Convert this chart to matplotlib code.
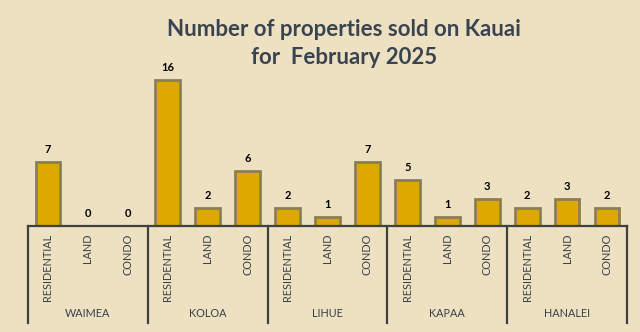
import matplotlib.pyplot as plt
from matplotlib.lines import Line2D

plt.rcParams['font.family'] = ['Lato', 'DejaVu Sans']

towns = ['WAIMEA', 'KOLOA', 'LIHUE', 'KAPAA', 'HANALEI']
types = ['RESIDENTIAL', 'LAND', 'CONDO']
sold = [7, 0, 0,
        16, 2, 6,
        2, 1, 7,
        5, 1, 3,
        2, 3, 2]

bg = '#EEE1C2'
fig = plt.figure(figsize=(6.4, 3.32), dpi=100, facecolor=bg)
ax = fig.add_axes([28/640, 106/332, 599/640, 166/332])
ax.set_facecolor(bg)

x = list(range(len(sold)))
bars = ax.bar(x, sold, width=0.62, color='#DDA800', edgecolor='#8C7E55', linewidth=2)

for xi, v in zip(x, sold):
    ax.annotate(str(v), (xi, v), xytext=(0, 5), textcoords='offset points',
                ha='center', va='bottom', fontsize=8, fontweight='bold', color='black')

ax.set_xlim(-0.5, len(sold) - 0.5)
ax.set_ylim(0, 18.2)
for s in ['top', 'right', 'left']:
    ax.spines[s].set_visible(False)
ax.spines['bottom'].set_color('#404040')
ax.spines['bottom'].set_linewidth(1.6)
ax.set_xticks([])
ax.set_yticks([])

tr = ax.get_xaxis_transform()
line_col = '#404040'
for i in range(len(towns) + 1):
    xs = i * 3 - 0.5
    ax.add_line(Line2D([xs, xs], [0, -0.585], transform=tr, color=line_col,
                       lw=1.6, clip_on=False))

for i, t in enumerate(towns):
    for j, ty in enumerate(types):
        ax.text(i * 3 + j, -0.045, ty, transform=tr, rotation=90, ha='center', va='top',
                fontsize=7.8, color='#3A3F48')
    ax.text(i * 3 + 1, -0.53, t, transform=tr, ha='center', va='center',
            fontsize=7.8, color='#3A3F48')

fig.text(344/640, 1 - 30/332, 'Number of properties sold on Kauai', ha='center', va='center',
         fontsize=16, fontweight='bold', color='#3A4450')
fig.text(344/640, 1 - 58/332, 'for  February 2025', ha='center', va='center',
         fontsize=16, fontweight='bold', color='#3A4450')

fig.savefig('out.png', dpi=100, facecolor=bg)
